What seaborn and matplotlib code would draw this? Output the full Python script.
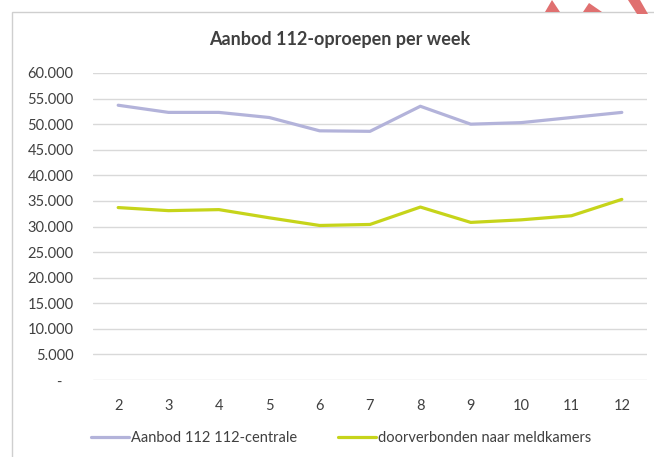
import matplotlib
matplotlib.use("Agg")
import matplotlib.pyplot as plt
import matplotlib.ticker as mticker
from matplotlib.patches import Rectangle, Polygon
import pandas as pd
import seaborn as sns

weeks = [2, 3, 4, 5, 6, 7, 8, 9, 10, 11, 12]
aanbod = [53700, 52300, 52300, 51300, 48700, 48600, 53500, 50000, 50300, 51300, 52300]
doorverbonden = [33700, 33100, 33300, 31700, 30200, 30400, 33800, 30800, 31300, 32100, 35300]
series_names = ["Aanbod 112 112-centrale", "doorverbonden naar meldkamers"]
colors = ["#b3b3da", "#c6d41a"]
title = "Aanbod 112-oproepen per week"

df = pd.DataFrame({
    "week": weeks * 2,
    "oproepen": aanbod + doorverbonden,
    "reeks": [series_names[0]] * len(weeks) + [series_names[1]] * len(weeks),
})

sns.set_style("white")
plt.rcParams["font.family"] = ["Lato", "DejaVu Sans"]
text_col = "#404040"

fig = plt.figure(figsize=(6.54, 4.57), dpi=100)
ax = fig.add_axes([93 / 654, 1 - 380 / 457, (647 - 93) / 654, (380 - 73) / 457])

sns.lineplot(data=df, x="week", y="oproepen", hue="reeks", palette=colors,
             linewidth=2.3, ax=ax, legend=False)

ax.set_xlim(1.5, 12.5)
ax.set_ylim(0, 60000)
ax.set_xticks(weeks)
ax.set_yticks(range(0, 60001, 5000))
ax.yaxis.set_major_formatter(mticker.FuncFormatter(
    lambda v, p: "-   " if v == 0 else f"{int(v):,}".replace(",", ".")))
ax.grid(axis="y", color="#d9d9d9", linewidth=1)
ax.set_axisbelow(True)
for s in ax.spines.values():
    s.set_visible(False)
ax.tick_params(axis="both", length=0, labelsize=10.5, labelcolor=text_col)
ax.tick_params(axis="x", pad=14)
ax.tick_params(axis="y", pad=14)
ax.set_xlabel("")
ax.set_ylabel("")

fig.text(340 / 654, 1 - 40 / 457, title, ha="center", va="center",
         fontsize=13, fontweight="bold", color=text_col)

handles = [plt.Line2D([], [], color=c, linewidth=2.3) for c in colors]
fig.legend(handles, series_names, loc="center", bbox_to_anchor=(341 / 654, 1 - 438 / 457),
           ncol=2, frameon=False, fontsize=10.5, labelcolor=text_col,
           handlelength=2.6, handletextpad=0.15, columnspacing=2.8)

# chart frame and the red shapes cut off at the top right
fig.patches.append(Rectangle((12 / 654, -0.1), 1.2, 1 - 12 / 457 + 0.1, transform=fig.transFigure,
                             fill=False, edgecolor="#cfcfcf", linewidth=1))
red = "#e07070"
for pts in ([(545, 12), (552, 0), (560, 12)],
            [(583, 12), (589, 3), (602, 12)],
            [(628, 0), (640, 0), (648, 14), (637, 14)]):
    fig.patches.append(Polygon([(x / 654, 1 - y / 457) for x, y in pts],
                               closed=True, transform=fig.transFigure,
                               facecolor=red, edgecolor="none"))

fig.savefig("out.png", dpi=100)
